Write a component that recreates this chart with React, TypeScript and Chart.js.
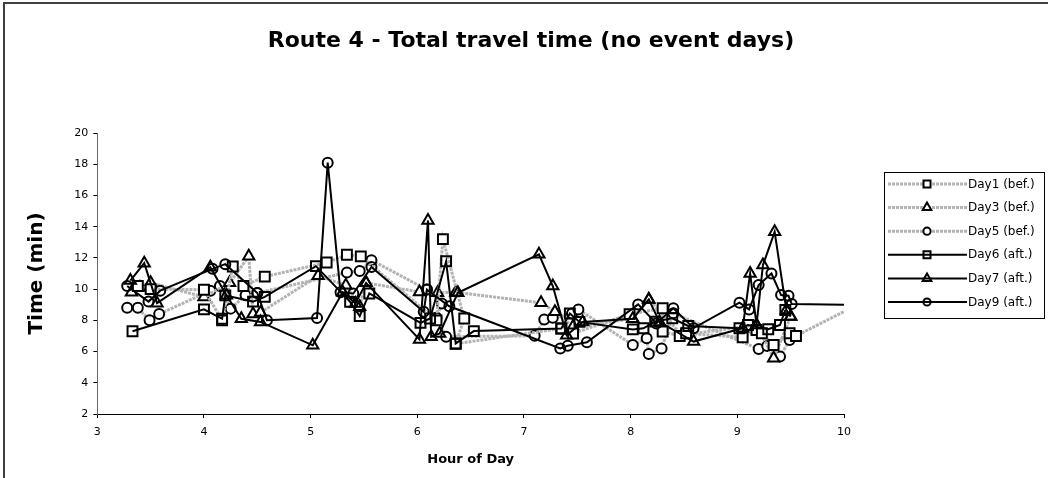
import React, { useEffect, useRef } from "react";
import { Chart, registerables } from "chart.js";

Chart.register(...registerables);

const TITLE = "Route 4 - Total travel time (no event days)";
const X_TITLE = "Hour of Day";
const Y_TITLE = "Time (min)";
const SERIES_NAMES = ["Day1 (bef.)", "Day3 (bef.)", "Day5 (bef.)", "Day6 (aft.)", "Day7 (aft.)", "Day9 (aft.)"];

const X_MIN = 3;
const X_MAX = 10;
const Y_MIN = 2;
const Y_MAX = 20;

// Day1 (bef.)
const day1Hours = [3.38, 3.5, 4.0, 4.17, 4.27, 4.37, 4.57, 5.15, 5.34, 5.47, 6.18, 6.24, 6.44, 6.36, 7.35, 7.46, 7.99, 8.3, 8.3, 8.46, 8.52, 9.05, 9.18, 9.23, 9.34, 9.49, 9.55, 10.5];
const day1Times = [10.2, 10.0, 9.96, 8.0, 11.45, 10.2, 10.8, 11.7, 12.2, 12.1, 8.0, 13.2, 8.12, 6.5, 7.48, 7.16, 8.4, 8.77, 7.28, 7.0, 7.17, 6.91, 7.38, 7.17, 6.42, 7.17, 7.0, 10.3];

// Day3 (bef.)
const day3Hours = [3.32, 3.4, 3.5, 4.0, 4.24, 4.42, 4.46, 4.53, 5.07, 5.33, 5.46, 5.52, 6.02, 6.19, 6.36, 7.16, 7.29, 7.46, 8.02, 8.17, 8.48, 9.18, 9.34, 9.5];
const day3Times = [9.8, 10.1, 10.4, 9.5, 10.4, 12.1, 8.4, 8.5, 10.85, 10.25, 8.87, 10.4, 9.82, 9.76, 9.8, 9.12, 8.55, 7.6, 8.1, 9.34, 7.06, 7.7, 5.57, 8.24];

// Day5 (bef.)
const day5Hours = [3.28, 3.38, 3.49, 3.58, 4.06, 4.15, 4.25, 4.39, 4.5, 5.34, 5.46, 5.57, 6.09, 6.23, 6.18, 6.27, 7.1, 7.19, 7.27, 7.45, 7.51, 8.02, 8.15, 8.17, 8.29, 8.4, 9.2, 9.28, 9.4, 9.49];
const day5Times = [8.8, 8.8, 8.0, 8.4, 9.9, 10.2, 8.75, 9.6, 9.75, 11.06, 11.16, 11.85, 9.97, 9.08, 8.16, 6.95, 7.01, 8.06, 8.16, 8.44, 8.7, 6.42, 6.85, 5.85, 6.2, 8.45, 6.17, 6.36, 5.68, 6.74];

// Day6 (aft.)
const day6Hours = [3.33, 4.0, 4.17, 4.2, 4.46, 4.57, 5.05, 5.37, 5.46, 5.55, 6.03, 6.12, 6.27, 6.36, 6.53, 7.35, 7.43, 7.52, 8.02, 8.12, 8.23, 8.39, 8.54, 9.02, 9.1, 9.29, 9.4, 9.45];
const day6Times = [7.3, 8.7, 8.1, 9.6, 9.2, 9.5, 11.47, 9.18, 8.27, 9.72, 7.84, 8.12, 11.78, 6.52, 7.31, 7.48, 8.44, 7.9, 7.42, 7.49, 7.92, 8.13, 7.64, 7.49, 7.7, 7.43, 7.7, 8.66];

// Day7 (aft.)
const day7Hours = [3.31, 3.44, 3.56, 4.06, 4.21, 4.35, 4.53, 5.02, 5.3, 5.42, 5.52, 6.02, 6.1, 6.13, 6.21, 6.38, 7.14, 7.27, 7.4, 7.55, 8.02, 8.17, 8.27, 8.59, 9.05, 9.12, 9.18, 9.24, 9.35, 9.46, 9.5];
const day7Times = [10.55, 11.66, 9.1, 11.4, 9.6, 8.1, 7.9, 6.4, 9.8, 9.08, 10.4, 6.78, 14.4, 6.95, 7.16, 9.76, 12.23, 10.2, 7.05, 7.9, 8.1, 9.34, 7.9, 6.64, 7.5, 11.0, 7.7, 11.54, 13.67, 8.66, 8.24];

// Day9 (aft.)
const day9Hours = [3.28, 3.48, 3.59, 4.08, 4.2, 4.5, 4.59, 5.06, 5.16, 5.28, 5.4, 5.57, 6.06, 6.09, 6.3, 7.34, 7.41, 7.59, 8.07, 8.24, 8.4, 8.59, 9.02, 9.11, 9.2, 9.32, 9.41, 9.48, 9.51, 10.6];
const day9Times = [10.2, 9.2, 9.9, 11.3, 11.6, 9.75, 8.0, 8.15, 18.1, 9.8, 9.72, 11.42, 8.55, 9.97, 8.9, 6.2, 6.37, 6.59, 9.02, 7.8, 8.77, 7.5, 9.13, 8.7, 10.26, 11.0, 9.62, 9.58, 9.04, 8.93];

const SERIES_HOURS = [day1Hours, day3Hours, day5Hours, day6Hours, day7Hours, day9Hours];
const SERIES_TIMES = [day1Times, day3Times, day5Times, day6Times, day7Times, day9Times];
const SERIES_MARKERS = ["rect", "triangle", "circle", "rect", "triangle", "circle"];
const SERIES_BEFORE = [true, true, true, false, false, false];

const FONT = "'DejaVu Sans', 'Liberation Sans', sans-serif";
const GRAY = "#b3b3b3";

function markerRadius(style: string) {
  if (style === "rect") return 7;
  if (style === "triangle") return 6.5;
  return 5;
}

function drawMarker(ctx: CanvasRenderingContext2D, style: string, cx: number, cy: number, filled: boolean) {
  ctx.beginPath();
  if (style === "rect") {
    ctx.rect(cx - 3.5, cy - 3.5, 7, 7);
  } else if (style === "triangle") {
    const r = 5;
    ctx.moveTo(cx, cy - r);
    ctx.lineTo(cx + r * 0.866, cy + r * 0.5);
    ctx.lineTo(cx - r * 0.866, cy + r * 0.5);
    ctx.closePath();
  } else {
    ctx.arc(cx, cy, 3.6, 0, Math.PI * 2);
  }
  if (filled) {
    ctx.fillStyle = "#fff";
    ctx.fill();
  }
  ctx.setLineDash([]);
  ctx.strokeStyle = "#000";
  ctx.lineWidth = 2;
  ctx.stroke();
}

const decorPlugin = {
  id: "decor",
  afterDraw(chart: any) {
    const ctx: CanvasRenderingContext2D = chart.ctx;
    ctx.save();
    // outer frame
    ctx.strokeStyle = "#404040";
    ctx.lineWidth = 2;
    ctx.beginPath();
    ctx.moveTo(4, 480);
    ctx.lineTo(4, 3);
    ctx.lineTo(1050, 3);
    ctx.stroke();

    // title
    ctx.fillStyle = "#000";
    ctx.font = `bold 22px ${FONT}`;
    ctx.textAlign = "center";
    ctx.textBaseline = "middle";
    ctx.fillText(TITLE, 531, 41);

    // legend
    const bx = 884.5, by = 172.5, bw = 160, bh = 146;
    ctx.fillStyle = "#fff";
    ctx.fillRect(bx, by, bw, bh);
    ctx.strokeStyle = "#000";
    ctx.lineWidth = 1;
    ctx.strokeRect(bx, by, bw, bh);
    ctx.font = `12px ${FONT}`;
    ctx.textAlign = "left";
    ctx.textBaseline = "middle";
    SERIES_NAMES.forEach((name, i) => {
      const y = 184 + i * 23.6;
      const before = SERIES_BEFORE[i];
      ctx.beginPath();
      ctx.strokeStyle = before ? GRAY : "#000";
      ctx.lineWidth = before ? 3 : 2;
      ctx.setLineDash(before ? [3, 1] : []);
      ctx.moveTo(888, y);
      ctx.lineTo(967, y);
      ctx.stroke();
      drawMarker(ctx, SERIES_MARKERS[i], 927, y, before);
      ctx.fillStyle = "#000";
      ctx.fillText(name, 968, y + 0.5);
    });
    ctx.restore();
  },
};

export default function App() {
  const canvasRef = useRef<HTMLCanvasElement | null>(null);

  useEffect(() => {
    const canvas = canvasRef.current;
    if (!canvas) return;
    const datasets = SERIES_NAMES.map((name, i) => {
      const before = SERIES_BEFORE[i];
      const style = SERIES_MARKERS[i];
      return {
        label: name,
        data: SERIES_HOURS[i].map((h, k) => ({ x: h, y: SERIES_TIMES[i][k] })),
        borderColor: before ? GRAY : "#000",
        borderWidth: before ? 3 : 2,
        borderDash: before ? [3, 1] : [],
        pointStyle: style,
        pointRadius: markerRadius(style),
        pointBorderWidth: 2,
        pointBorderColor: "#000",
        pointBackgroundColor: before ? "#fff" : "rgba(0,0,0,0)",
        tension: 0,
        fill: false,
        clip: 0,
        order: before ? 1 : 0,
      };
    });

    const chart = new Chart(canvas, {
      type: "line",
      data: { datasets },
      options: {
        responsive: false,
        animation: false,
        layout: { padding: { left: 0, right: 204, top: 133, bottom: 0 } },
        plugins: {
          legend: { display: false },
          title: { display: false },
          tooltip: { enabled: false },
        },
        scales: {
          x: {
            type: "linear",
            min: X_MIN,
            max: X_MAX,
            ticks: { stepSize: 1, color: "#000", font: { family: FONT, size: 11 }, padding: 8 },
            grid: { drawOnChartArea: false, tickLength: 4, color: "#000" },
            border: { color: "#000", width: 1 },
            title: {
              display: true,
              text: X_TITLE,
              color: "#000",
              font: { family: FONT, size: 13, weight: "bold" },
              padding: { top: 0, bottom: 11 },
            },
            afterFit: (scale: any) => {
              scale.height = 64;
            },
          },
          y: {
            type: "linear",
            min: Y_MIN,
            max: Y_MAX,
            ticks: { stepSize: 2, color: "#000", font: { family: FONT, size: 11 }, padding: 5 },
            grid: { drawOnChartArea: false, tickLength: 4, color: "#000" },
            border: { color: "#666", width: 1 },
            title: {
              display: true,
              text: Y_TITLE,
              color: "#000",
              font: { family: FONT, size: 20, weight: "bold" },
              padding: { top: 25, bottom: 0 },
            },
            afterFit: (scale: any) => {
              scale.width = 97.3;
            },
          },
        },
      },
      plugins: [decorPlugin],
    } as any);

    return () => chart.destroy();
  }, []);

  return (
    <div style={{ position: "fixed", left: 0, top: 0, width: 1048, height: 478, background: "#fff" }}>
      <canvas ref={canvasRef} width={1048} height={478} style={{ display: "block" }} />
    </div>
  );
}
